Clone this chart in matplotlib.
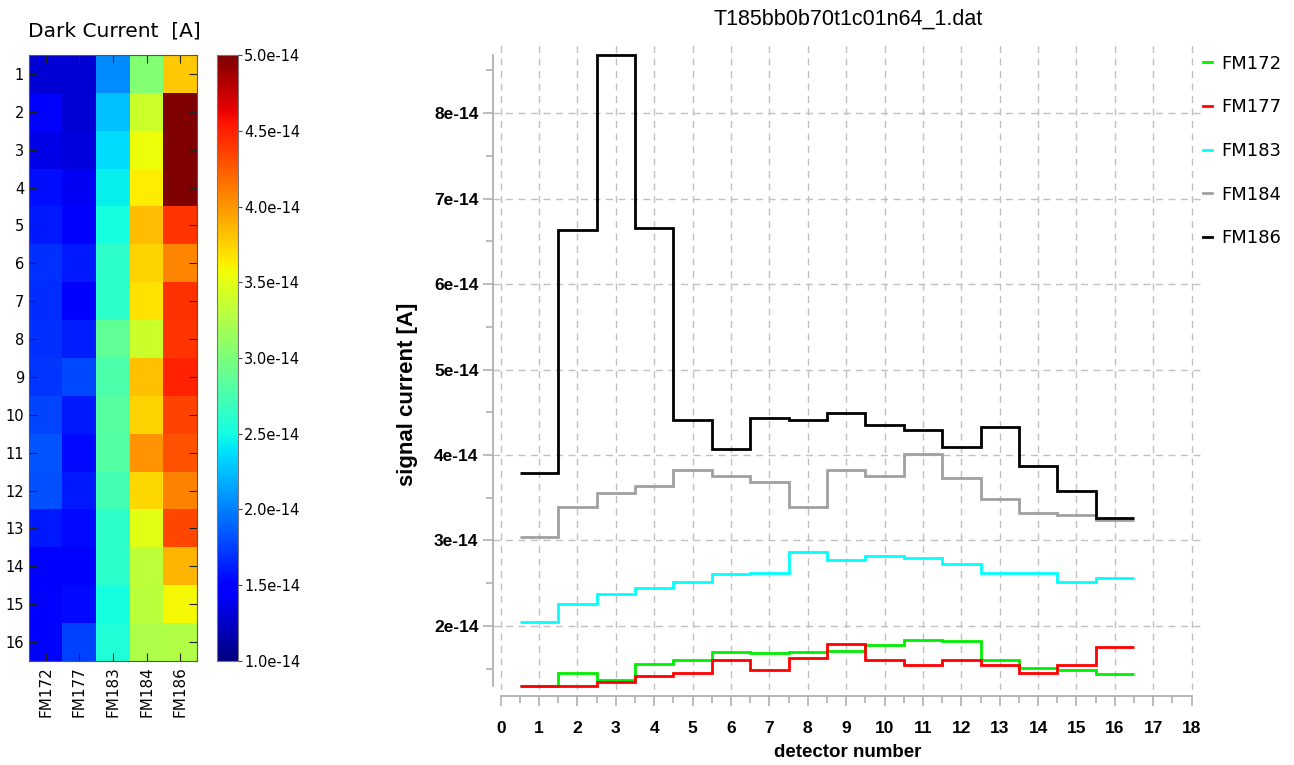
import numpy as np
import matplotlib
matplotlib.use('Agg')
import matplotlib.pyplot as plt
from matplotlib.ticker import MultipleLocator, FormatStrFormatter

# signal current per detector, units of 1e-14 A
detectors = np.arange(1, 17)
modules = ['FM172', 'FM177', 'FM183', 'FM184', 'FM186']
fm172 = [1.30, 1.45, 1.37, 1.55, 1.60, 1.70, 1.68, 1.70, 1.71, 1.78, 1.84, 1.82, 1.60, 1.51, 1.49, 1.44]
fm177 = [1.30, 1.30, 1.34, 1.41, 1.45, 1.60, 1.49, 1.62, 1.79, 1.60, 1.54, 1.60, 1.54, 1.45, 1.54, 1.75]
fm183 = [2.05, 2.26, 2.37, 2.44, 2.51, 2.61, 2.62, 2.87, 2.77, 2.82, 2.80, 2.72, 2.62, 2.62, 2.51, 2.56]
fm184 = [3.04, 3.39, 3.55, 3.64, 3.83, 3.75, 3.68, 3.39, 3.82, 3.75, 4.01, 3.73, 3.49, 3.32, 3.30, 3.24]
fm186 = [3.79, 6.63, 8.68, 6.66, 4.41, 4.07, 4.43, 4.41, 4.49, 4.35, 4.29, 4.09, 4.33, 3.87, 3.58, 3.26]
colors = ['#00ee00', '#ff0000', '#00ffff', '#a0a0a0', '#000000']

data = np.array([fm172, fm177, fm183, fm184, fm186]) * 1e-14

fig = plt.figure(figsize=(12.94, 7.65), dpi=100)

# ---- heatmap ----
ax1 = fig.add_axes([0.0224, 0.136, 0.1298, 0.792])
im = ax1.imshow(data.T, cmap='jet', vmin=1e-14, vmax=5e-14, aspect='auto',
                interpolation='nearest', extent=(-0.5, 4.5, 16.5, 0.5))
ax1.set_yticks(detectors)
ax1.set_yticklabels([str(d) for d in detectors], fontsize=10.5)
ax1.set_xticks(range(5))
ax1.set_xticklabels(modules, rotation=90, fontsize=11)
ax1.tick_params(direction='in', length=6, top=True, right=True, color='#222222')
for s in ax1.spines.values():
    s.set_color('#555555')
fig.text(0.0216, 0.96, 'Dark Current  [A]', fontsize=14.5, va='center', ha='left')

cax = fig.add_axes([0.1677, 0.136, 0.0162, 0.792])
cb = fig.colorbar(im, cax=cax, ticks=np.arange(1, 5.01, 0.5) * 1e-14, format='%.1e')
cb.ax.tick_params(labelsize=10.5, length=3, pad=1.5, color='#444444')
cb.outline.set_edgecolor('#777777')

# ---- step plot ----
ax2 = fig.add_axes([0.381, 0.098, 0.5488, 0.8458])
edges = np.arange(0.5, 17.5, 1.0)
for name, vals, c in zip(modules, data, colors):
    ax2.stairs(vals, edges, baseline=None, color=c, lw=2.0, label=name)

ax2.set_xlim(-0.2, 18.3)
ax2.set_ylim(1.25e-14, 8.82e-14)
ax2.xaxis.set_major_locator(MultipleLocator(1))
ax2.xaxis.set_minor_locator(MultipleLocator(0.5))
ax2.yaxis.set_minor_locator(MultipleLocator(0.5e-14))
ax2.yaxis.set_major_formatter(FormatStrFormatter('%.0e'))
ax2.set_yticks(np.arange(2, 8.5, 1) * 1e-14)

ax2.spines['top'].set_visible(False)
ax2.spines['right'].set_visible(False)
ax2.spines['left'].set_color('#b0b0b0')
ax2.spines['bottom'].set_color('#b0b0b0')
ax2.spines['left'].set_linewidth(1.3)
ax2.spines['bottom'].set_linewidth(1.3)
ax2.spines['left'].set_bounds(data.min(), data.max())
ax2.spines['bottom'].set_bounds(0, 18)
ax2.spines['bottom'].set_position(('outward', 4))

ax2.tick_params(which='major', length=7, color='#b0b0b0', width=1.2)
ax2.tick_params(which='minor', length=5, color='#b0b0b0', width=1.2)
ax2.tick_params(axis='x', which='major', pad=11)
for lab in ax2.get_xticklabels() + ax2.get_yticklabels():
    lab.set_fontfamily('Liberation Sans')
    lab.set_fontweight('bold')
    lab.set_fontsize(12.5)

ax2.grid(True, which='major', color='#c0c0c0', linestyle=(0, (5, 4)), lw=1.0)
ax2.set_axisbelow(True)

ax2.set_xlabel('detector number', fontfamily='Liberation Sans', fontweight='bold',
               fontsize=13.5)
ax2.xaxis.set_label_coords(0.5, -0.083)
ax2.set_ylabel('signal current [A]', fontfamily='Liberation Sans', fontweight='bold',
               fontsize=16)
ax2.yaxis.set_label_coords(-0.106, 0.457)
ax2.set_title('T185bb0b70t1c01n64_1.dat', fontfamily='Liberation Sans', fontsize=15.5,
              pad=13)

leg = ax2.legend(loc='upper left', bbox_to_anchor=(1.0, 0.982), frameon=False,
                 handlelength=0.5, handletextpad=0.5, labelspacing=1.42, fontsize=13,
                 borderaxespad=0, borderpad=0)

fig.savefig('out.png', dpi=100)
